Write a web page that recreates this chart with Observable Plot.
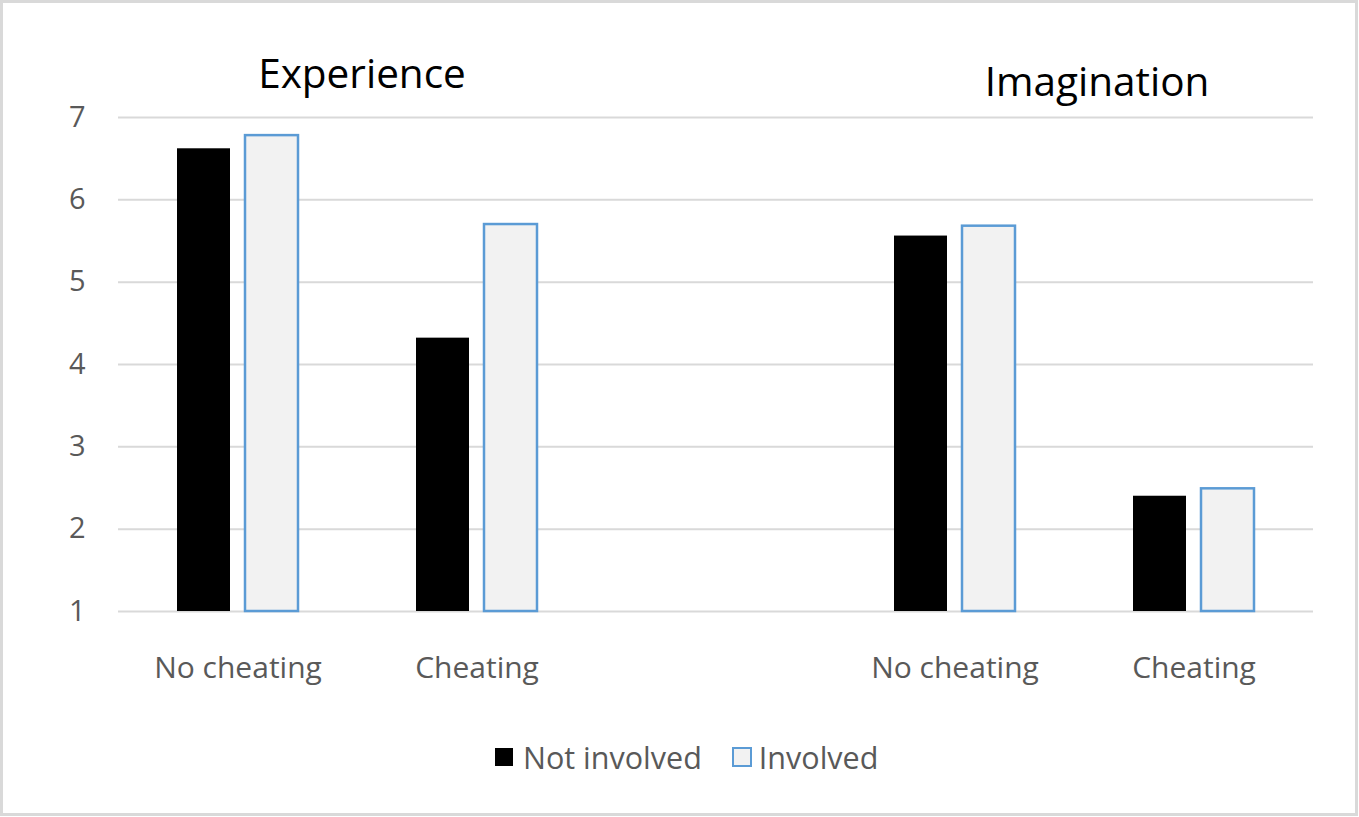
<!DOCTYPE html>
<html>
<head>
<meta charset="utf-8">
<script src="https://cdn.jsdelivr.net/npm/d3@7"></script>
<script src="https://cdn.jsdelivr.net/npm/@observablehq/plot@0.6"></script>
<style>
  html, body { margin: 0; padding: 0; background: #fff; }
  #wrap { position: relative; width: 1359px; height: 817px; overflow: hidden; font-family: "Open Sans", sans-serif; }
  #frame { position: absolute; left: 0; top: 0; width: 1358px; height: 816px; box-sizing: border-box; border: 3px solid #d9d9d9; pointer-events: none; }
  #chart { position: absolute; left: 0; top: 0; }
  .gtitle { position: absolute; font-size: 40.5px; color: #000; white-space: nowrap; transform: translateX(-50%); line-height: 1; }
  #legend { position: absolute; left: 495px; top: 736px; display: flex; align-items: center; font-size: 30.5px; color: #595959; white-space: nowrap; }
  .sw { display: inline-block; width: 18px; height: 18px; box-sizing: border-box; margin-right: 10px; }
  .item { display: flex; align-items: center; margin-right: 30px; }
</style>
</head>
<body>
<div id="wrap">
  <div id="chart"></div>
  <div id="titles"></div>
  <div id="legend"></div>
  <div id="frame"></div>
</div>
<script>
// ---- data ----
const slots = ["exp-no", "exp-ch", "gap", "img-no", "img-ch"];
const slotLabels = ["No cheating", "Cheating", "", "No cheating", "Cheating"];
const series = ["Not involved", "Involved"];
const notInvolved = [6.62, 4.32, null, 5.56, 2.40];
const involved = [6.78, 5.70, null, 5.68, 2.49];
const yTicks = [1, 2, 3, 4, 5, 6, 7];
const groupTitles = ["Experience", "Imagination"];
const seriesFill = ["#000000", "#f2f2f2"];
const seriesStroke = ["#000000", "#5b9bd5"];

// ---- build rows ----
const rows = [];
slots.forEach((s, i) => {
  if (notInvolved[i] != null) rows.push({slot: s, series: series[0], value: notInvolved[i]});
  if (involved[i] != null) rows.push({slot: s, series: series[1], value: involved[i]});
});
const gridRows = [];
slots.forEach(s => yTicks.forEach(t => gridRows.push({slot: s, y: t})));

const W = 1359, H = 700;
const plot = Plot.plot({
  width: W,
  height: H,
  marginLeft: 118,
  marginRight: 46,
  marginTop: 117,
  marginBottom: H - 611,
  style: {fontFamily: "'Open Sans', sans-serif", background: "transparent", overflow: "visible"},
  fx: {domain: slots, padding: 0, label: null},
  x: {domain: series, paddingInner: 0.217, paddingOuter: 0.842, axis: null},
  y: {domain: [yTicks[0], yTicks[yTicks.length - 1]], label: null},
  marks: [
    Plot.ruleY(gridRows, {fx: "slot", y: "y", stroke: "#d9d9d9", strokeWidth: 2}),
    Plot.barY(rows.filter(d => d.series === series[0]), {
      fx: "slot", x: "series", y1: () => yTicks[0], y2: "value",
      fill: seriesFill[0], inset: 0
    }),
    Plot.barY(rows.filter(d => d.series === series[1]), {
      fx: "slot", x: "series", y1: () => yTicks[0], y2: "value",
      fill: seriesFill[1], stroke: seriesStroke[1], strokeWidth: 2.5, inset: 0
    }),
    Plot.axisY({ticks: yTicks, tickSize: 0, tickPadding: 33, fontSize: 29, color: "#595959", label: null, tickFormat: d => String(d)}),
    Plot.axisFx({anchor: "bottom", tickSize: 0, tickPadding: 45, fontSize: 30, color: "#595959", label: null,
      tickFormat: d => slotLabels[slots.indexOf(d)]})
  ]
});
document.getElementById("chart").appendChild(plot);

// ---- group titles ----
const titlePos = [{left: 362, top: 53}, {left: 1097, top: 61}];
const tdiv = document.getElementById("titles");
groupTitles.forEach((t, i) => {
  const el = document.createElement("div");
  el.className = "gtitle";
  el.textContent = t;
  el.style.left = titlePos[i].left + "px";
  el.style.top = titlePos[i].top + "px";
  tdiv.appendChild(el);
});

// ---- legend ----
const leg = document.getElementById("legend");
series.forEach((s, i) => {
  const item = document.createElement("div");
  item.className = "item";
  const sw = document.createElement("span");
  sw.className = "sw";
  sw.style.background = seriesFill[i];
  if (i !== 0) { sw.style.border = "2px solid " + seriesStroke[i]; sw.style.width = "20px"; sw.style.height = "20px"; sw.style.marginRight = "7px"; }
  const lab = document.createElement("span");
  lab.textContent = s;
  item.appendChild(sw);
  item.appendChild(lab);
  leg.appendChild(item);
});
</script>
</body>
</html>
